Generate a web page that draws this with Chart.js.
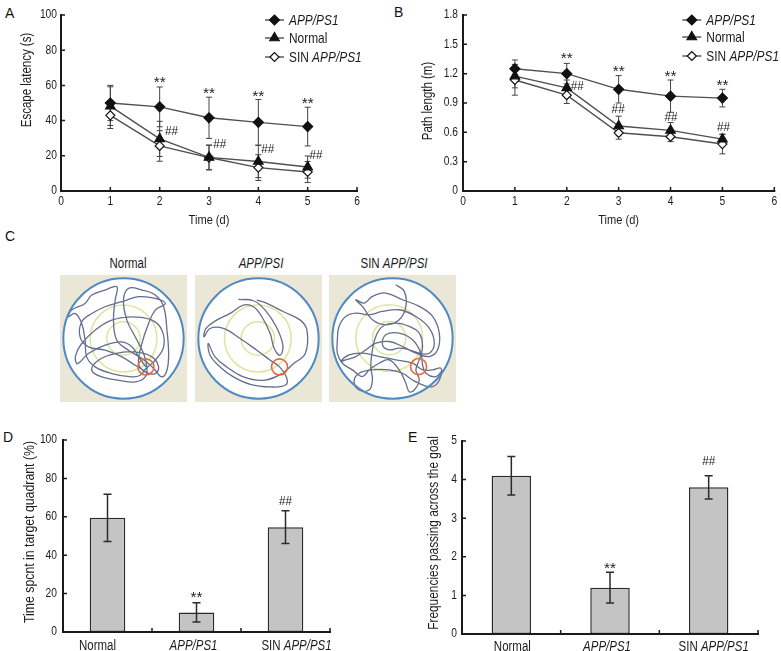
<!DOCTYPE html>
<html>
<head>
<meta charset="utf-8">
<title>Water maze</title>
<script src="https://cdn.jsdelivr.net/npm/chart.js@4.4.1/dist/chart.umd.min.js"></script>
<style>
  body { margin: 0; width: 781px; height: 651px; position: relative; overflow: hidden; background: #fff;
         font-family: 'Liberation Sans', Arial, sans-serif; color: #1c1c1c; }
  .panel { position: absolute; }
  .tag { position: absolute; font-size: 14px; line-height: 15px; color: #111; }
  .arena-title { position: absolute; top: 255px; width: 120px; margin-left: -60px; text-align: center;
                 font-size: 14px; line-height: 16px; transform: scaleX(0.82); }
</style>
</head>
<body>
<div class="tag" style="left:5px;top:6px">A</div>
<div class="tag" style="left:394px;top:5px">B</div>
<div class="tag" style="left:5px;top:229px">C</div>
<div class="tag" style="left:3px;top:430px">D</div>
<div class="tag" style="left:408px;top:430px">E</div>

<div class="panel" style="left:0;top:0;width:390px;height:230px"><canvas id="latencyChart"></canvas></div>
<div class="panel" style="left:390px;top:0;width:391px;height:230px"><canvas id="pathChart"></canvas></div>

<div class="arena-title" style="left:128px">Normal</div>
<div class="arena-title" style="left:261px"><i>APP/PSI</i></div>
<div class="arena-title" style="left:394px">SIN <i>APP/PSI</i></div>
<div class="panel" style="left:60px;top:275px;width:127px;height:127px"><canvas id="arenaNormal"></canvas></div>
<div class="panel" style="left:195px;top:275px;width:127px;height:127px"><canvas id="arenaApp"></canvas></div>
<div class="panel" style="left:329px;top:275px;width:127px;height:127px"><canvas id="arenaSin"></canvas></div>

<div class="panel" style="left:0;top:420px;width:390px;height:231px"><canvas id="quadrantChart"></canvas></div>
<div class="panel" style="left:390px;top:420px;width:391px;height:231px"><canvas id="crossingChart"></canvas></div>

<script>
const FONT = "'Liberation Sans', Arial, sans-serif";
const SQUEEZE = 0.82; // the figure uses a condensed face
const INK = "#1c1c1c";

/* ---------------- DATA ---------------- */

const days = [1, 2, 3, 4, 5];
const groups = ["APP/PS1", "Normal", "SIN APP/PS1"];

// A: escape latency (s)
const latencyApp = [50, 47.8, 41.6, 39, 36.6];
const latencyAppErr = [10, 11.3, 11.7, 13, 11];
const latencyNormal = [48.2, 29.6, 19.1, 16.8, 13.6];
const latencyNormalErr = [11, 10, 7, 9.2, 6.3];
const latencySin = [43, 25.6, 19, 13.3, 10.8];
const latencySinErr = [7.5, 8.7, 7, 7.3, 6];
const latencyStars = [[2, 62.6], [3, 56.5], [4, 54.8], [5, 50.9]];
const latencyHashes = [[2.24, 34], [3.22, 26.6], [4.19, 23.5], [5.17, 20.3]];

// B: path length (m)
const pathApp = [1.25, 1.2, 1.04, 0.97, 0.95];
const pathAppErr = [0.09, 0.105, 0.14, 0.165, 0.09];
const pathNormal = [1.175, 1.055, 0.665, 0.62, 0.53];
const pathNormalErr = [0.12, 0.08, 0.1, 0.08, 0.05];
const pathSin = [1.135, 0.98, 0.595, 0.555, 0.48];
const pathSinErr = [0.155, 0.085, 0.065, 0.05, 0.1];
const pathStars = [[2, 1.37], [3, 1.24], [4, 1.185], [5, 1.1]];
const pathHashes = [[2.2, 1.065], [2.99, 0.83], [4.01, 0.75], [5.02, 0.646]];

// C: swim tracks, arena units (pool centre ~205,205, radius 180)
const trackNormal = [
  [272,290],[250,260],[230,230],[200,215],[150,225],[100,250],[75,275],[65,280],[62,255],[80,220],
  [120,180],[170,150],[230,140],[290,150],[320,180],[325,230],[300,270],[272,295],[255,315],[230,320],
  [170,310],[120,290],[95,260],[90,210],[80,160],[60,130],[40,140],[50,120],[90,100],[110,75],
  [150,60],[185,50],[180,90],[175,150],[185,210],[220,240],[260,265],[285,285],[300,300],[320,320],
  [335,300],[340,250],[335,180],[325,110],[300,75],[260,60],[220,55],[205,90],[215,150],[240,200],
  [265,250],[275,290],[270,320],[240,335],[190,330],[140,320],[110,300],[130,270],[180,250],[240,245],
  [290,260],[310,290],[300,310],[270,305],[250,280],[260,220],[280,160],[300,120],[330,100],[300,85],
  [250,80],[200,95],[150,110],[110,130],[80,155],[75,200],[100,230],[150,240],[200,260],[240,285],[265,300]
];
const trackApp = [
  [145,88],[190,92],[225,120],[258,170],[278,225],[270,255],[252,235],[240,190],[215,140],[190,110],
  [160,105],[120,130],[80,150],[48,175],[42,200],[60,175],[100,175],[150,205],[200,240],[240,270],
  [268,290],[290,325],[285,345],[240,350],[180,342],[130,320],[90,290],[60,255],[55,220],[75,260],
  [110,290],[160,320],[220,330],[275,310],[310,280],[345,250],[350,180],[330,150],[280,125],[230,100],[200,90]
];
const trackSin = [
  [220,45],[245,65],[250,110],[230,150],[190,165],[150,150],[120,110],[100,90],[125,100],[150,80],
  [190,70],[240,90],[290,110],[330,140],[350,190],[345,240],[320,260],[280,250],[240,230],[200,215],
  [160,220],[130,240],[100,260],[70,270],[55,275],[80,255],[120,250],[170,260],[220,270],[270,280],
  [300,300],[330,300],[355,295],[350,330],[330,350],[300,345],[270,330],[240,310],[200,300],[150,300],
  [110,310],[95,335],[110,360],[140,360],[150,330],[145,290],[150,240],[160,200],[180,170],[220,160],
  [260,170],[290,190],[300,230],[290,270],[280,300],[290,330],[275,360],[260,365],[250,340],[230,300],
  [200,270],[170,280],[140,300],[120,320],[90,300],[60,280],[45,250],[45,210],[50,170],[70,140],
  [100,130],[140,135],[180,125],[230,120],[280,140],[320,175],[335,220],[320,250],[290,250],[260,240],
  [230,235],[200,240],[180,225],[190,195],[230,190],[270,210],[295,250],[300,285],[310,310],[340,320],[360,300]
];
const goalNormal = [272, 290];
const goalApp = [268, 290];
const goalSin = [288, 290];

// D and E
const barGroups = ["Normal", "APP/PS1", "SIN APP/PS1"];
const quadrantTime = [59.5, 10.2, 54.6];
const quadrantErr = [12.3, 5, 8.5];
const quadrantMarks = [[1, 19.1, "**"], [2, 67.8, "##"]];
const crossings = [4.1, 1.2, 3.8];
const crossingsErr = [0.5, 0.4, 0.3];
const crossingMarks = [[1, 1.74, "**"], [2, 4.46, "##"]];

/* ---------------- HELPERS ---------------- */

Chart.defaults.font.family = FONT;
Chart.defaults.font.size = 12.5;
Chart.defaults.color = INK;
Chart.defaults.animation = false;
Chart.defaults.plugins.legend.display = false;
Chart.defaults.plugins.tooltip.enabled = false;

// condensed text; the strain name is set in italics
const drawMixed = (ctx, text, x, y, size, align) => {
    const m = text.match(/APP\/PS[1I]/);
    const parts = m
        ? [[text.slice(0, m.index), false], [m[0], true], [text.slice(m.index + m[0].length), false]]
        : [[text, false]];
    const fontOf = it => `${it ? "italic " : ""}${size}px ${FONT}`;
    let w = 0;
    parts.forEach(([s, it]) => { ctx.font = fontOf(it); w += ctx.measureText(s).width; });
    ctx.save();
    ctx.translate(x, y);
    ctx.scale(SQUEEZE, 1);
    let cx = align === "center" ? -w / 2 : align === "right" ? -w : 0;
    ctx.textAlign = "left";
    parts.forEach(([s, it]) => {
        ctx.font = fontOf(it);
        ctx.fillText(s, cx, 0);
        cx += ctx.measureText(s).width;
    });
    ctx.restore();
};

const axesPlugin = {
    id: "axesLines",
    afterDatasetsDraw(chart, args, o) {
        const { ctx, chartArea: a, scales: { x, y } } = chart;
        ctx.save();
        ctx.strokeStyle = "#1a1a1a";
        ctx.lineWidth = 2;
        ctx.beginPath();
        ctx.moveTo(a.left, a.top - 1);
        ctx.lineTo(a.left, a.bottom);
        ctx.lineTo(a.right + 1, a.bottom);
        ctx.stroke();
        ctx.lineWidth = 1.5;
        ctx.beginPath();
        y.ticks.forEach(t => {
            const p = y.getPixelForValue(t.value);
            ctx.moveTo(a.left, p);
            ctx.lineTo(a.left + 4, p);
        });
        if (x.type === "category") {
            const step = (a.right - a.left) / chart.data.labels.length;
            chart.data.labels.forEach((l, i) => {
                const p = a.left + step * (i + 1);
                ctx.moveTo(p, a.bottom);
                ctx.lineTo(p, a.bottom - 4);
            });
        } else {
            x.ticks.forEach(t => {
                const p = x.getPixelForValue(t.value);
                ctx.moveTo(p, a.bottom);
                ctx.lineTo(p, a.bottom - 4);
            });
        }
        ctx.stroke();

        // tick labels and titles
        ctx.fillStyle = INK;
        ctx.textBaseline = "middle";
        const fmt = o.yFmt || (v => String(v));
        y.ticks.forEach(t => drawMixed(ctx, fmt(t.value), a.left - o.yPad, y.getPixelForValue(t.value), 12.5, "right"));
        if (x.type !== "category") {
            x.ticks.forEach(t => drawMixed(ctx, String(t.value), x.getPixelForValue(t.value), a.bottom + 11, 12.5, "center"));
        }
        if (o.xTitle) drawMixed(ctx, o.xTitle, (a.left + a.right) / 2, a.bottom + 29, 13.5, "center");
        const [text, tx, ty, size] = o.yTitle;
        ctx.save();
        ctx.translate(tx, ty);
        ctx.rotate(-Math.PI / 2);
        drawMixed(ctx, text, 0, 0, size || 13.5, "center");
        ctx.restore();
        ctx.restore();
    }
};

const drawErrors = (chart, o) => {
    const { ctx, scales: { y } } = chart;
    ctx.save();
    ctx.strokeStyle = o.color;
    ctx.lineWidth = o.width;
    chart.data.datasets.forEach((ds, di) => {
        chart.getDatasetMeta(di).data.forEach((el, i) => {
            const raw = ds.data[i];
            const v = typeof raw === "object" ? raw.y : raw;
            const top = y.getPixelForValue(v + ds.err[i]);
            const bot = y.getPixelForValue(v - ds.err[i]);
            ctx.beginPath();
            ctx.moveTo(el.x, top); ctx.lineTo(el.x, bot);
            ctx.moveTo(el.x - o.cap, top); ctx.lineTo(el.x + o.cap, top);
            ctx.moveTo(el.x - o.cap, bot); ctx.lineTo(el.x + o.cap, bot);
            ctx.stroke();
        });
    });
    ctx.restore();
};

const errorBarPlugin = {
    id: "errorBars",
    beforeDatasetsDraw(chart, args, o) { if (!o.after) drawErrors(chart, o); },
    afterDatasetsDraw(chart, args, o) { if (o.after) drawErrors(chart, o); }
};

const marksPlugin = {
    id: "sigMarks",
    afterDraw(chart, args, o) {
        const { ctx, scales: { x, y } } = chart;
        ctx.save();
        ctx.fillStyle = INK;
        ctx.textAlign = "center";
        ctx.textBaseline = "middle";
        o.marks.forEach(([mx, my, t]) => {
            const px = x.getPixelForValue(mx);
            const py = y.getPixelForValue(my) + (t === "**" ? 2.5 : 0);
            ctx.font = `${t === "**" ? 14 : 13}px ${FONT}`;
            ctx.save();
            ctx.translate(px, py);
            ctx.scale(t === "##" ? 0.9 : 1.1, 1);
            ctx.fillText(t, 0, 0);
            ctx.restore();
        });
        ctx.restore();
    }
};

const lineLegendPlugin = {
    id: "lineLegend",
    afterDraw(chart, args, o) {
        const { ctx, chartArea: a } = chart;
        ctx.save();
        chart.data.datasets.forEach((ds, i) => {
            const y = a.top + o.rows[i];
            const x0 = a.right - o.dx;
            ctx.strokeStyle = ds.borderColor;
            ctx.lineWidth = ds.borderWidth;
            ctx.beginPath();
            ctx.moveTo(x0, y);
            ctx.lineTo(x0 + 19, y);
            ctx.stroke();
            ctx.fillStyle = ds.pointBackgroundColor;
            ctx.strokeStyle = ds.pointBorderColor;
            ctx.lineWidth = ds.pointBorderWidth;
            Chart.helpers.drawPoint(ctx, {
                pointStyle: ds.pointStyle, radius: ds.pointRadius, rotation: 0, borderWidth: ds.pointBorderWidth
            }, x0 + 9.5, y);
            ctx.fillStyle = INK;
            ctx.textBaseline = "middle";
            drawMixed(ctx, ds.label, x0 + 24, y + 1, 14.5, "left");
        });
        ctx.restore();
    }
};

// category labels sit a little off the bar centres in the figure
const barLabelPlugin = {
    id: "barLabels",
    afterDraw(chart, args, o) {
        const { ctx, chartArea: a, scales: { x } } = chart;
        ctx.save();
        ctx.fillStyle = INK;
        ctx.textBaseline = "middle";
        chart.data.labels.forEach((l, i) => drawMixed(ctx, l, x.getPixelForValue(i) + o.shift[i], a.bottom + o.dy, 14, "center"));
        ctx.restore();
    }
};

const markerStyles = [
    { pointStyle: "rectRot", pointRadius: 5, pointBackgroundColor: "#111" },
    { pointStyle: "triangle", pointRadius: 5.5, pointBackgroundColor: "#111" },
    { pointStyle: "rectRot", pointRadius: 4.5, pointBackgroundColor: "#fff" }
];

const lineSets = (series, errs) => series.map((vals, k) => ({
    label: groups[k],
    data: days.map((d, i) => ({ x: d, y: vals[i] })),
    err: errs[k],
    borderColor: "#505050",
    borderWidth: 1.4,
    pointBorderColor: "#111",
    pointBorderWidth: 1.2,
    tension: 0,
    ...markerStyles[k]
}));

const yAxis = (max, step, width) => ({
    min: 0,
    max,
    grid: { display: false, drawTicks: false },
    border: { display: false },
    ticks: { stepSize: step, display: false },
    afterFit: s => { s.width = width; }
});

const timeAxis = {
    type: "linear",
    min: 0,
    max: 6,
    grid: { display: false, drawTicks: false },
    border: { display: false },
    ticks: { stepSize: 1, display: false },
    afterFit: s => { s.height = 39; }
};

/* ---------------- A: ESCAPE LATENCY ---------------- */

new Chart(document.getElementById("latencyChart"), {
    type: "line",
    data: {
        datasets: lineSets([latencyApp, latencyNormal, latencySin], [latencyAppErr, latencyNormalErr, latencySinErr])
    },
    options: {
        responsive: true,
        maintainAspectRatio: false,
        layout: { padding: { top: 15, right: 33, left: 0, bottom: 0 } },
        scales: { x: timeAxis, y: yAxis(100, 20, 61) },
        plugins: {
            errorBars: { color: "#444", width: 1, cap: 3, after: false },
            axesLines: { yPad: 4, xTitle: "Time (d)", yTitle: ["Escape latency (s)", 27, 80, 14] },
            sigMarks: { marks: [...latencyStars.map(p => [...p, "**"]), ...latencyHashes.map(p => [...p, "##"])] },
            lineLegend: { dx: 92, rows: [5, 23, 42] }
        }
    },
    plugins: [errorBarPlugin, axesPlugin, marksPlugin, lineLegendPlugin]
});

/* ---------------- B: PATH LENGTH ---------------- */

new Chart(document.getElementById("pathChart"), {
    type: "line",
    data: {
        datasets: lineSets([pathApp, pathNormal, pathSin], [pathAppErr, pathNormalErr, pathSinErr])
    },
    options: {
        responsive: true,
        maintainAspectRatio: false,
        layout: { padding: { top: 15, right: 4, left: 0, bottom: 0 } },
        scales: { x: timeAxis, y: yAxis(1.8, 0.3, 73) },
        plugins: {
            errorBars: { color: "#444", width: 1, cap: 3, after: false },
            axesLines: {
                yPad: 5, xTitle: "Time (d)", yTitle: ["Path length (m)", 38, 101, 14],
                yFmt: v => (v === 0 ? "0" : v.toFixed(1))
            },
            sigMarks: { marks: [...pathStars.map(p => [...p, "**"]), ...pathHashes.map(p => [...p, "##"])] },
            lineLegend: { dx: 92, rows: [5, 22, 41] }
        }
    },
    plugins: [errorBarPlugin, axesPlugin, marksPlugin, lineLegendPlugin]
});

/* ---------------- C: SWIM TRACKS ---------------- */

const arenaPlugin = {
    id: "arena",
    beforeDatasetsDraw(chart, args, o) {
        const { ctx, scales: { x, y } } = chart;
        const len = r => Math.abs(x.getPixelForValue(o.pool[0] + r) - x.getPixelForValue(o.pool[0]));
        ctx.save();
        ctx.fillStyle = "#ebe7d7";
        ctx.fillRect(0, 0, chart.width, chart.height);
        ctx.fillStyle = "#fff";
        ctx.beginPath();
        ctx.arc(x.getPixelForValue(o.pool[0]), y.getPixelForValue(o.pool[1]), len(180), 0, 2 * Math.PI);
        ctx.fill();
        ctx.strokeStyle = "#dfe49d";
        ctx.lineWidth = 1.5;
        [100, 50].forEach(r => {
            ctx.beginPath();
            ctx.arc(x.getPixelForValue(o.rings[0]), y.getPixelForValue(o.rings[1]), len(r), 0, 2 * Math.PI);
            ctx.stroke();
        });
        ctx.restore();
    },
    afterDatasetsDraw(chart, args, o) {
        const { ctx, scales: { x, y } } = chart;
        const len = r => Math.abs(x.getPixelForValue(o.pool[0] + r) - x.getPixelForValue(o.pool[0]));
        ctx.save();
        ctx.strokeStyle = "#4f8ac2";
        ctx.lineWidth = 2;
        ctx.beginPath();
        ctx.arc(x.getPixelForValue(o.pool[0]), y.getPixelForValue(o.pool[1]), len(180), 0, 2 * Math.PI);
        ctx.stroke();
        ctx.strokeStyle = "#e6693a";
        ctx.lineWidth = 1.6;
        ctx.beginPath();
        ctx.arc(x.getPixelForValue(o.goal[0]), y.getPixelForValue(o.goal[1]), len(24), 0, 2 * Math.PI);
        ctx.stroke();
        ctx.restore();
    }
};

const makeArena = (id, track, pool, rings, goal) => new Chart(document.getElementById(id), {
    type: "scatter",
    data: {
        datasets: [{
            data: track.map(([tx, ty]) => ({ x: tx, y: ty })),
            showLine: true,
            pointRadius: 0,
            borderColor: "#656d8c",
            borderWidth: 1.3,
            tension: 0.4
        }]
    },
    options: {
        responsive: true,
        maintainAspectRatio: false,
        layout: { padding: 0 },
        scales: {
            x: { display: false, min: pool[0] - 190, max: pool[0] + 190 },
            y: { display: false, min: pool[1] - 190, max: pool[1] + 190, reverse: true }
        },
        plugins: { arena: { pool, rings, goal } }
    },
    plugins: [arenaPlugin]
});

makeArena("arenaNormal", trackNormal, [205, 205], [205, 205], goalNormal);
makeArena("arenaApp", trackApp, [205, 205], [203, 205], goalApp);
makeArena("arenaSin", trackSin, [210, 206], [200, 205], goalSin);

/* ---------------- D, E: PROBE TRIAL BARS ---------------- */

const makeBars = (id, values, errs, marks, max, step, opt) => new Chart(document.getElementById(id), {
    type: "bar",
    data: {
        labels: barGroups,
        datasets: [{
            data: values,
            err: errs,
            backgroundColor: "#c4c4c4",
            borderColor: "#2b2b2b",
            borderWidth: 1.5,
            borderSkipped: false,
            barPercentage: 0.4,
            categoryPercentage: 1
        }]
    },
    options: {
        responsive: true,
        maintainAspectRatio: false,
        layout: { padding: { top: opt.top, right: opt.right, left: 0, bottom: 0 } },
        scales: {
            x: {
                grid: { display: false, drawTicks: false },
                border: { display: false },
                ticks: { display: false },
                afterFit: s => { s.height = opt.xHeight; }
            },
            y: yAxis(max, step, opt.width)
        },
        plugins: {
            errorBars: { color: "#2b2b2b", width: 1.5, cap: 4, after: true },
            axesLines: { yPad: opt.pad, yTitle: opt.title },
            sigMarks: { marks },
            barLabels: { dy: opt.dy, shift: opt.shift }
        }
    },
    plugins: [errorBarPlugin, axesPlugin, marksPlugin, barLabelPlugin]
});

makeBars("quadrantChart", quadrantTime, quadrantErr, quadrantMarks, 100, 20, {
    top: 20, right: 60, xHeight: 19, width: 63, pad: 6, dy: 14, shift: [-10, -3, 11],
    title: ["Time spcnt in target quadrant (%)", 30, 112, 15]
});

makeBars("crossingChart", crossings, crossingsErr, crossingMarks, 5, 1, {
    top: 21, right: 23, xHeight: 17, width: 72, pad: 5, dy: 13, shift: [1, -3, 5],
    title: ["Frequencies passing across the goal", 44, 113, 14.5]
});
</script>
</body>
</html>
